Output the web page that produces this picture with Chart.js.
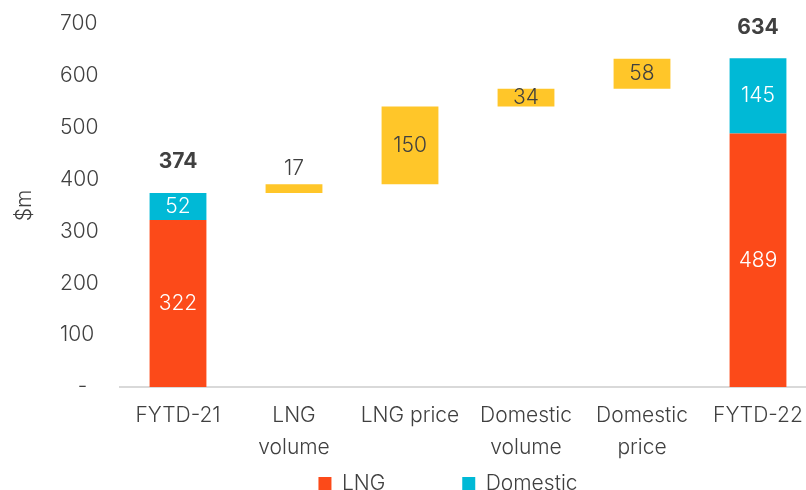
<!DOCTYPE html>
<html>
<head>
<meta charset="utf-8">
<script src="https://cdn.jsdelivr.net/npm/chart.js@4"></script>
<style>
    body { margin: 0; background: #fff; overflow: hidden; }
    .wrap { width: 816px; height: 497px; }
</style>
</head>
<body>
<div class="wrap"><canvas id="chart-bridge"></canvas></div>
<script>
// 데이터
const categories = [["FYTD-21"], ["LNG", "volume"], ["LNG price"], ["Domestic", "volume"], ["Domestic", "price"], ["FYTD-22"]];
const lngValues = [322, null, null, null, null, 489];
const domesticValues = [52, null, null, null, null, 145];
const changeValues = [null, 17, 150, 34, 58, null];
const yTicks = [0, 100, 200, 300, 400, 500, 600, 700];

const textColor = '#404040';
const fontFamily = 'Inter, Lato, sans-serif';

// floating bars built from the values above
const lngBars = lngValues.map(v => v === null ? null : [0, v]);
const domesticBars = domesticValues.map((v, i) => v === null ? null : [lngValues[i], lngValues[i] + v]);
let running = lngValues[0] + domesticValues[0];
const changeBars = changeValues.map(v => {
    if (v === null) return null;
    const bar = [running, running + v];
    running += v;
    return bar;
});

// 라벨 그리기 (막대 값 + 합계 + 축 제목)
const labelPlugin = {
    id: 'barLabels',
    afterDatasetsDraw(chart) {
        const ctx = chart.ctx;
        ctx.save();
        ctx.textAlign = 'center';
        ctx.textBaseline = 'middle';
        chart.data.datasets.forEach((ds, di) => {
            const meta = chart.getDatasetMeta(di);
            meta.data.forEach((bar, i) => {
                if (ds.data[i] === null) return;
                const mid = (bar.y + bar.base) / 2;
                ctx.font = '300 21px ' + fontFamily;
                if (di === 2) {
                    ctx.fillStyle = textColor;
                    const h = Math.abs(bar.base - bar.y);
                    const y = h < 12 ? bar.y - 16 : mid;
                    ctx.fillText(changeValues[i], bar.x, y);
                } else {
                    ctx.fillStyle = '#ffffff';
                    const v = di === 0 ? lngValues[i] : domesticValues[i];
                    ctx.fillText(v, bar.x, mid);
                    if (di === 1) {
                        ctx.fillStyle = textColor;
                        ctx.font = 'bold 21px ' + fontFamily;
                        ctx.fillText(lngValues[i] + domesticValues[i], bar.x, bar.y - 31);
                    }
                }
            });
        });
        // y축 제목
        const area = chart.chartArea;
        ctx.translate(25, (area.top + area.bottom) / 2);
        ctx.rotate(-Math.PI / 2);
        ctx.fillStyle = textColor;
        ctx.font = '300 21px ' + fontFamily;
        ctx.fillText('$m', 0, 0);
        ctx.restore();
    }
};

const config_bridge = {
    type: 'bar',
    data: {
        labels: categories,
        datasets: [
            { label: 'LNG', data: lngBars, backgroundColor: '#FC4A19' },
            { label: 'Domestic', data: domesticBars, backgroundColor: '#00B9D6' },
            { label: 'Change', data: changeBars, backgroundColor: '#FFC629' }
        ]
    },
    plugins: [labelPlugin],
    options: {
        animation: false,
        responsive: false,
        barPercentage: 1,
        categoryPercentage: 0.49,
        layout: { padding: { top: 24, right: 0, left: 80, bottom: 0 } },
        scales: {
            x: {
                stacked: true,
                afterFit: s => { s.height = 80; },
                grid: { display: false, drawTicks: false },
                border: { color: '#d9d9d9', width: 2 },
                ticks: {
                    color: textColor,
                    padding: 13,
                    maxRotation: 0,
                    autoSkip: false,
                    font: { family: fontFamily, size: 21, weight: 300, lineHeight: 1.52 }
                }
            },
            y: {
                min: 0,
                max: 700,
                afterBuildTicks: s => { s.ticks = yTicks.map(v => ({ value: v })); },
                afterFit: s => { s.width = 40; },
                grid: { display: false, drawTicks: false },
                border: { display: false },
                ticks: {
                    mirror: true,
                    color: textColor,
                    padding: -60,
                    font: { family: fontFamily, size: 21, weight: 300 },
                    callback: v => v === 0 ? '   -' : v
                }
            }
        },
        plugins: {
            tooltip: { enabled: false },
            legend: {
                position: 'bottom',
                maxHeight: 30,
                labels: {
                    filter: item => item.text !== 'Change',
                    color: textColor,
                    boxWidth: 13,
                    boxHeight: 13,
                    padding: 6,
                    generateLabels: chart => Chart.defaults.plugins.legend.labels.generateLabels(chart)
                        .map(item => Object.assign(item, { text: item.text + (item.text === 'LNG' ? '            ' : '') })),
                    font: { family: fontFamily, size: 21, weight: 300 }
                }
            }
        }
    }
};

const canvas = document.getElementById('chart-bridge');
canvas.width = 816;
canvas.height = 497;
const bridgeChart = new Chart(canvas, config_bridge);
</script>
</body>
</html>
